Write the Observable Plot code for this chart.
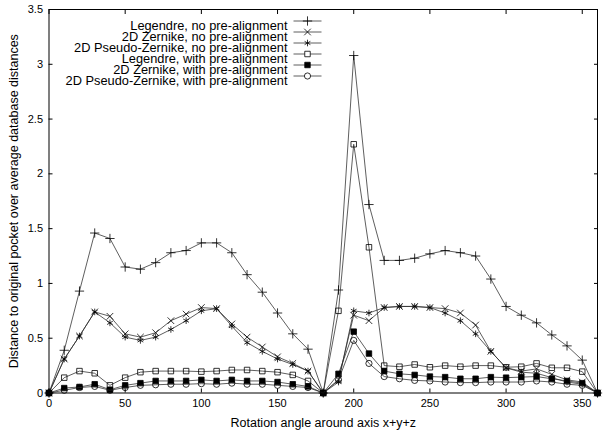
<!DOCTYPE html>
<html><head><meta charset="utf-8">
<script src="https://cdn.jsdelivr.net/npm/d3@7"></script>
<script src="https://cdn.jsdelivr.net/npm/@observablehq/plot@0.6"></script>
<style>body{margin:0;background:#fff}</style>
</head><body><div id="chart"></div>
<script>
const angles = [0,10,20,30,40,50,60,70,80,90,100,110,120,130,140,150,160,170,180,190,200,210,220,230,240,250,260,270,280,290,300,310,320,330,340,350,360];
const seriesNames = [
  "Legendre, no pre-alignment",
  "2D Zernike, no pre-alignment",
  "2D Pseudo-Zernike, no pre-alignment",
  "Legendre, with pre-alignment",
  "2D Zernike, with pre-alignment",
  "2D Pseudo-Zernike, with pre-alignment"
];
const legendreNo = [0,0.39,0.93,1.46,1.41,1.15,1.13,1.19,1.28,1.30,1.37,1.37,1.28,1.08,0.92,0.73,0.54,0.40,0,0.94,3.08,1.72,1.21,1.21,1.23,1.27,1.30,1.28,1.25,1.04,0.79,0.71,0.64,0.53,0.43,0.30,0];
const zernikeNo = [0,0.31,0.52,0.74,0.70,0.54,0.51,0.55,0.66,0.72,0.78,0.77,0.63,0.51,0.42,0.33,0.27,0.20,0,0.12,0.71,0.66,0.78,0.79,0.79,0.78,0.77,0.73,0.62,0.38,0.23,0.20,0.22,0.17,0.12,0.10,0];
const pseudoNo = [0,0.31,0.52,0.74,0.64,0.51,0.48,0.51,0.58,0.66,0.75,0.77,0.61,0.46,0.38,0.31,0.26,0.20,0,0.10,0.75,0.73,0.78,0.79,0.79,0.78,0.73,0.66,0.54,0.38,0.23,0.19,0.18,0.14,0.10,0.08,0];
const legendreWith = [0,0.14,0.20,0.18,0.07,0.14,0.19,0.20,0.20,0.20,0.195,0.20,0.21,0.21,0.20,0.19,0.165,0.11,0,0.75,2.27,1.33,0.25,0.24,0.26,0.235,0.25,0.24,0.25,0.25,0.235,0.24,0.27,0.23,0.23,0.195,0];
const zernikeWith = [0,0.045,0.055,0.08,0.03,0.07,0.09,0.11,0.11,0.11,0.12,0.11,0.12,0.11,0.11,0.10,0.08,0.06,0,0.175,0.56,0.36,0.20,0.175,0.165,0.15,0.145,0.13,0.13,0.145,0.14,0.145,0.15,0.13,0.11,0.09,0];
const pseudoWith = [0,0.025,0.05,0.06,0.025,0.05,0.07,0.075,0.08,0.08,0.085,0.08,0.09,0.08,0.08,0.07,0.06,0.05,0,0.12,0.48,0.27,0.15,0.13,0.115,0.11,0.10,0.095,0.095,0.10,0.10,0.10,0.11,0.10,0.08,0.07,0];
const xTicks = [0,50,100,150,200,250,300,350];
const yTicks = [0,0.5,1,1.5,2,2.5,3,3.5];
const yTickLabels = ["0","0.5","1","1.5","2","2.5","3","3.5"];
const xLabel = "Rotation angle around axis x+y+z";
const yLabel = "Distance to original pocket over average database distances";

const allSeries = [legendreNo, zernikeNo, pseudoNo, legendreWith, zernikeWith, pseudoWith];
const symbols = ["plus","times","asterisk","square","square","circle"];
const fills = ["none","none","none","none","black","none"];

const rows = [];
allSeries.forEach((vals, s) => vals.forEach((v, i) => rows.push({s, series: seriesNames[s], angle: angles[i], value: v})));

const lineSymbol = {draw(ctx) { ctx.moveTo(-14, 0); ctx.lineTo(14, 0); }};

const marks = [];
allSeries.forEach((_, s) => {
  const d = rows.filter(r => r.s === s);
  marks.push(Plot.line(d, {x: "angle", y: "value", stroke: "#2a2a2a", strokeWidth: 0.75}));
  marks.push(Plot.dot(d, {x: "angle", y: "value", symbol: symbols[s], r: 3.1, stroke: "black", strokeWidth: 0.8, fill: fills[s]}));
});
// legend
seriesNames.forEach((name, i) => {
  const dy = 11.5 + 11 * i;
  marks.push(Plot.text([name], {frameAnchor: "top-left", text: d => d, textAnchor: "end", dx: 238.5, dy, fontSize: 12.8, fill: "black"}));
  marks.push(Plot.dot([name], {frameAnchor: "top-left", dx: 258.5, dy, symbol: lineSymbol, r: 3, stroke: "#2a2a2a", strokeWidth: 0.75}));
  marks.push(Plot.dot([name], {frameAnchor: "top-left", dx: 258.5, dy, symbol: symbols[i], r: 3.1, stroke: "black", strokeWidth: 0.8, fill: fills[i] === "none" ? "white" : fills[i]}));
});
marks.push(Plot.frame({stroke: "black", strokeWidth: 1}));
marks.push(Plot.axisX(xTicks, {anchor: "bottom", tickSize: -4, tickPadding: 10, fontSize: 11, label: null}));
marks.push(Plot.axisX(xTicks, {anchor: "top", tickSize: -4, tickFormat: () => "", label: null}));
marks.push(Plot.axisY(yTicks, {anchor: "left", tickSize: -4, tickPadding: 10, fontSize: 11, tickFormat: (d, i) => yTickLabels[i], label: null}));
marks.push(Plot.axisY(yTicks, {anchor: "right", tickSize: -4, tickFormat: () => "", label: null}));
marks.push(Plot.text([xLabel], {frameAnchor: "bottom", text: d => d, dy: 34, fontSize: 12.5, fill: "black"}));
marks.push(Plot.text([yLabel], {frameAnchor: "left", text: d => d, textAnchor: "middle", dx: -35, rotate: -90, fontSize: 12.5, fill: "black"}));

const chart = Plot.plot({
  width: 605,
  height: 433,
  marginLeft: 48.5,
  marginRight: 8,
  marginTop: 9,
  marginBottom: 40.5,
  style: {fontFamily: "'Liberation Sans', Arial, sans-serif", fontSize: "11px", background: "white", color: "black"},
  x: {domain: [0, 360]},
  y: {domain: [0, 3.5]},
  marks
});
document.getElementById("chart").appendChild(chart);
</script>
</body></html>
